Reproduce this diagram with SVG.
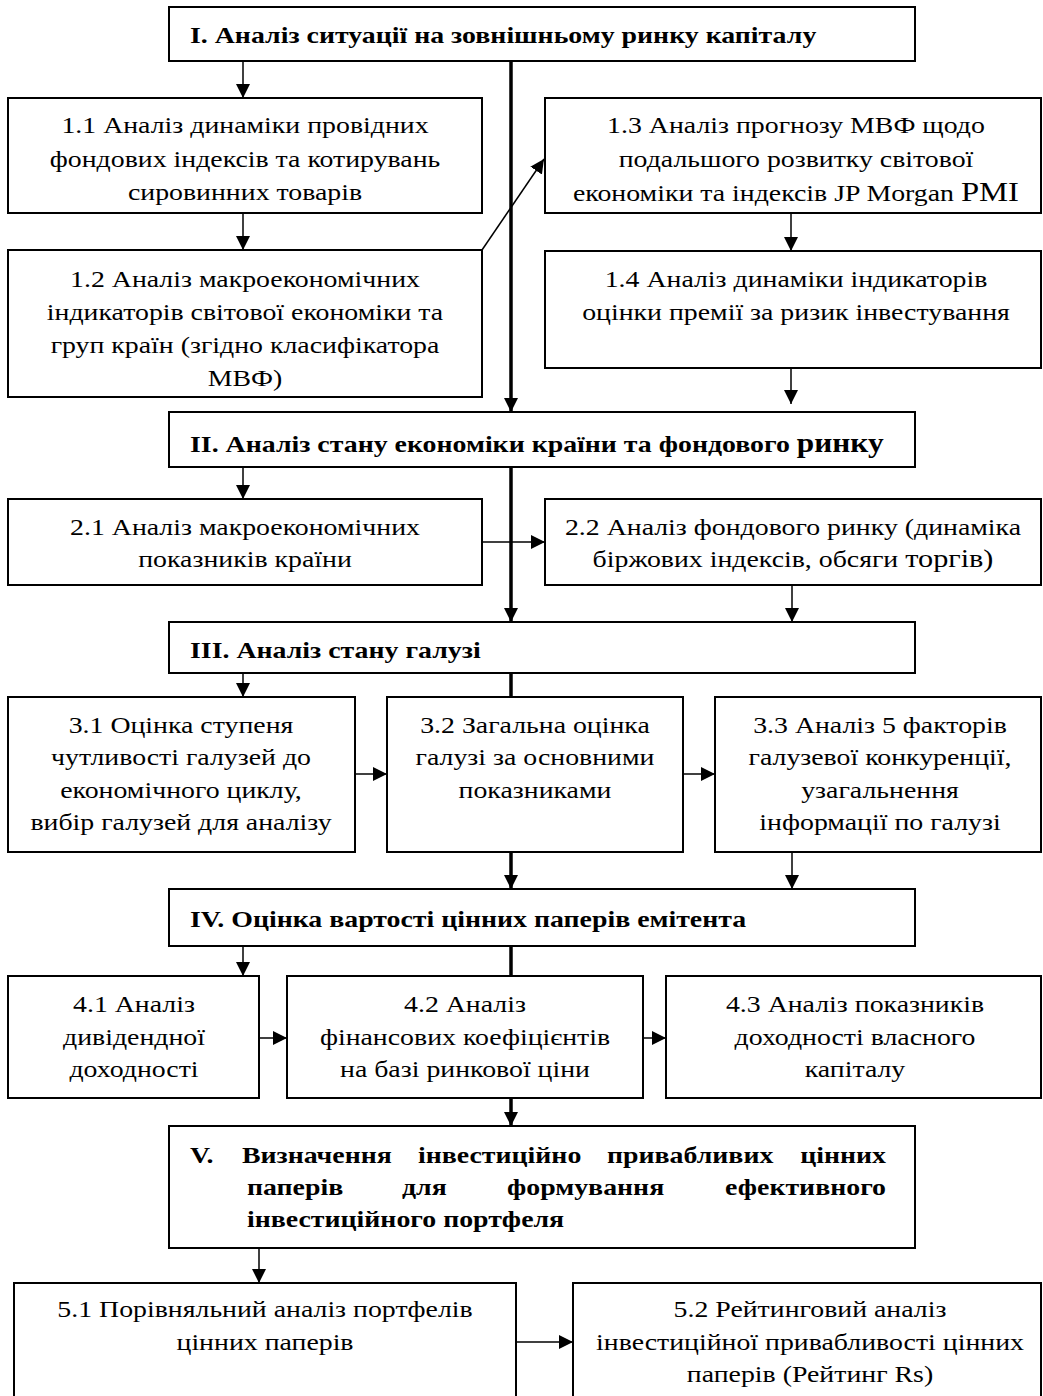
<svg xmlns="http://www.w3.org/2000/svg" width="1043" height="1396" viewBox="0 0 1043 1396">
<style>
.box{fill:#fff;stroke:#000;stroke-width:2}
.t{font-family:"Liberation Serif","Times New Roman",serif;font-size:23px;text-anchor:middle;fill:#000;transform:scaleX(1.21)}
.b{font-family:"Liberation Serif","Times New Roman",serif;font-size:24px;font-weight:bold;fill:#000;transform:scaleX(1.16)}
.e{text-anchor:end}
.thin{stroke:#000;stroke-width:1.5;fill:none}
.thick{stroke:#000;stroke-width:3.5;fill:none}
</style>
<defs>
<marker id="ah" markerUnits="userSpaceOnUse" markerWidth="14" markerHeight="14" refX="14" refY="7" orient="auto"><path d="M0,0 L14,7 L0,14 z" fill="#000"/></marker>
</defs>
<rect width="1043" height="1396" fill="#fff"/>
<g id="n1">
<rect class="box" x="169" y="7" width="746" height="54"/>
<g transform="translate(190,0)"><text class="b" x="0" y="43">I. Аналіз ситуації на зовнішньому ринку капіталу</text></g>
</g>
<g id="n11">
<rect class="box" x="8" y="98" width="474" height="115"/>
<g transform="translate(245,0)">
<text class="t" x="0" y="133">1.1 Аналіз динаміки провідних</text>
<text class="t" x="0" y="167">фондових індексів та котирувань</text>
<text class="t" x="0" y="200">сировинних товарів</text>
</g>
</g>
<g id="n12">
<rect class="box" x="8" y="250" width="474" height="147"/>
<g transform="translate(245,0)">
<text class="t" x="0" y="287">1.2 Аналіз макроекономічних</text>
<text class="t" x="0" y="320">індикаторів світової економіки та</text>
<text class="t" x="0" y="353">груп країн (згідно класифікатора</text>
<text class="t" x="0" y="386">МВФ)</text>
</g>
</g>
<g id="n13">
<rect class="box" x="545" y="98" width="496" height="115"/>
<g transform="translate(796,0)">
<text class="t" x="0" y="133">1.3 Аналіз прогнозу МВФ щодо</text>
<text class="t" x="0" y="167">подальшого розвитку світової</text>
<text class="t" x="0" y="201">економіки та індексів JP Morgan <tspan font-size="27">PMI</tspan></text>
</g>
</g>
<g id="n14">
<rect class="box" x="545" y="251" width="496" height="117"/>
<g transform="translate(796,0)">
<text class="t" x="0" y="287">1.4 Аналіз динаміки індикаторів</text>
<text class="t" x="0" y="320">оцінки премії за ризик інвестування</text>
</g>
</g>
<g id="n2">
<rect class="box" x="169" y="412" width="746" height="55"/>
<g transform="translate(190,0)"><text class="b" x="0" y="452">II. Аналіз стану економіки країни та фондового <tspan font-size="27">ринку</tspan></text></g>
</g>
<g id="n21">
<rect class="box" x="8" y="499" width="474" height="86"/>
<g transform="translate(245,0)">
<text class="t" x="0" y="535">2.1 Аналіз макроекономічних</text>
<text class="t" x="0" y="567">показників країни</text>
</g>
</g>
<g id="n22">
<rect class="box" x="545" y="499" width="496" height="86"/>
<g transform="translate(793,0)">
<text class="t" x="0" y="535">2.2 Аналіз фондового ринку (динаміка</text>
<text class="t" x="0" y="567">біржових індексів, обсяги <tspan font-size="25">торгів)</tspan></text>
</g>
</g>
<g id="n3">
<rect class="box" x="169" y="622" width="746" height="51"/>
<g transform="translate(190,0)"><text class="b" x="0" y="658">III. Аналіз стану галузі</text></g>
</g>
<g id="n31">
<rect class="box" x="8" y="697" width="347" height="155"/>
<g transform="translate(181,0)">
<text class="t" x="0" y="733">3.1 Оцінка ступеня</text>
<text class="t" x="0" y="765">чутливості галузей до</text>
<text class="t" x="0" y="798">економічного циклу,</text>
<text class="t" x="0" y="830">вибір галузей для аналізу</text>
</g>
</g>
<g id="n32">
<rect class="box" x="387" y="697" width="296" height="155"/>
<g transform="translate(535,0)">
<text class="t" x="0" y="733">3.2 Загальна оцінка</text>
<text class="t" x="0" y="765">галузі за основними</text>
<text class="t" x="0" y="798">показниками</text>
</g>
</g>
<g id="n33">
<rect class="box" x="715" y="697" width="326" height="155"/>
<g transform="translate(880,0)">
<text class="t" x="0" y="733">3.3 Аналіз 5 факторів</text>
<text class="t" x="0" y="765">галузевої конкуренції,</text>
<text class="t" x="0" y="798">узагальнення</text>
<text class="t" x="0" y="830">інформації по галузі</text>
</g>
</g>
<g id="n4">
<rect class="box" x="169" y="889" width="746" height="57"/>
<g transform="translate(190,0)"><text class="b" x="0" y="927">IV. Оцінка вартості цінних паперів емітента</text></g>
</g>
<g id="n41">
<rect class="box" x="8" y="976" width="251" height="122"/>
<g transform="translate(134,0)">
<text class="t" x="0" y="1012">4.1 Аналіз</text>
<text class="t" x="0" y="1045">дивідендної</text>
<text class="t" x="0" y="1077">доходності</text>
</g>
</g>
<g id="n42">
<rect class="box" x="287" y="976" width="356" height="122"/>
<g transform="translate(465,0)">
<text class="t" x="0" y="1012">4.2 Аналіз</text>
<text class="t" x="0" y="1045">фінансових коефіцієнтів</text>
<text class="t" x="0" y="1077">на базі ринкової ціни</text>
</g>
</g>
<g id="n43">
<rect class="box" x="666" y="976" width="375" height="122"/>
<g transform="translate(855,0)">
<text class="t" x="0" y="1012">4.3 Аналіз показників</text>
<text class="t" x="0" y="1045">доходності власного</text>
<text class="t" x="0" y="1077">капіталу</text>
</g>
</g>
<g id="n5">
<rect class="box" x="169" y="1126" width="746" height="122"/>
<g transform="translate(190,0)"><text class="b" x="0" y="1163">V.</text></g>
<g transform="translate(242,0)"><text class="b" x="0" y="1163">Визначення</text></g>
<g transform="translate(418,0)"><text class="b" x="0" y="1163">інвестиційно</text></g>
<g transform="translate(607,0)"><text class="b" x="0" y="1163">привабливих</text></g>
<g transform="translate(886,0)"><text class="b e" x="0" y="1163">цінних</text></g>
<g transform="translate(247,0)"><text class="b" x="0" y="1195">паперів</text></g>
<g transform="translate(402,0)"><text class="b" x="0" y="1195">для</text></g>
<g transform="translate(507,0)"><text class="b" x="0" y="1195">формування</text></g>
<g transform="translate(886,0)"><text class="b e" x="0" y="1195">ефективного</text></g>
<g transform="translate(247,0)"><text class="b" x="0" y="1227">інвестиційного портфеля</text></g>
</g>
<g id="n51">
<rect class="box" x="14" y="1283" width="502" height="130"/>
<g transform="translate(265,0)">
<text class="t" x="0" y="1317">5.1 Порівняльний аналіз портфелів</text>
<text class="t" x="0" y="1350">цінних паперів</text>
</g>
</g>
<g id="n52">
<rect class="box" x="573" y="1283" width="468" height="130"/>
<g transform="translate(810,0)">
<text class="t" x="0" y="1317">5.2 Рейтинговий аналіз</text>
<text class="t" x="0" y="1350">інвестиційної привабливості цінних</text>
<text class="t" x="0" y="1382">паперів (Рейтинг Rs)</text>
</g>
</g>
<g id="connectors">
<line class="thick" x1="511" y1="61" x2="511" y2="412" marker-end="url(#ah)"/>
<line class="thick" x1="511" y1="467" x2="511" y2="622" marker-end="url(#ah)"/>
<line class="thick" x1="511" y1="673" x2="511" y2="697"/>
<line class="thick" x1="511" y1="852" x2="511" y2="889" marker-end="url(#ah)"/>
<line class="thick" x1="511" y1="946" x2="511" y2="976"/>
<line class="thick" x1="511" y1="1098" x2="511" y2="1126" marker-end="url(#ah)"/>
<line class="thin" x1="243" y1="61" x2="243" y2="98" marker-end="url(#ah)"/>
<line class="thin" x1="243" y1="213" x2="243" y2="250" marker-end="url(#ah)"/>
<line class="thin" x1="482" y1="250" x2="544" y2="159" marker-end="url(#ah)"/>
<line class="thin" x1="791" y1="213" x2="791" y2="251" marker-end="url(#ah)"/>
<line class="thin" x1="791" y1="368" x2="791" y2="404" marker-end="url(#ah)"/>
<line class="thin" x1="243" y1="467" x2="243" y2="499" marker-end="url(#ah)"/>
<line class="thin" x1="482" y1="542" x2="545" y2="542" marker-end="url(#ah)"/>
<line class="thin" x1="792" y1="585" x2="792" y2="622" marker-end="url(#ah)"/>
<line class="thin" x1="243" y1="673" x2="243" y2="697" marker-end="url(#ah)"/>
<line class="thin" x1="355" y1="774" x2="387" y2="774" marker-end="url(#ah)"/>
<line class="thin" x1="683" y1="774" x2="715" y2="774" marker-end="url(#ah)"/>
<line class="thin" x1="792" y1="852" x2="792" y2="889" marker-end="url(#ah)"/>
<line class="thin" x1="243" y1="946" x2="243" y2="976" marker-end="url(#ah)"/>
<line class="thin" x1="259" y1="1038" x2="287" y2="1038" marker-end="url(#ah)"/>
<line class="thin" x1="643" y1="1038" x2="666" y2="1038" marker-end="url(#ah)"/>
<line class="thin" x1="259" y1="1248" x2="259" y2="1283" marker-end="url(#ah)"/>
<line class="thin" x1="516" y1="1342" x2="573" y2="1342" marker-end="url(#ah)"/>
</g>
</svg>
